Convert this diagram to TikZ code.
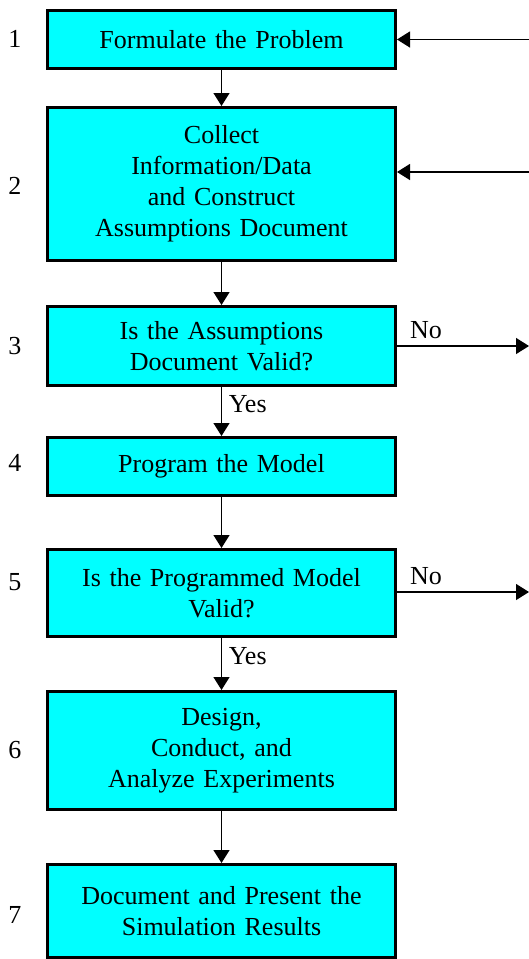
\documentclass[tikz,border=0pt]{standalone}
\usepackage{fontspec}
\setmainfont{Liberation Serif}
\usetikzlibrary{arrows.meta}
\definecolor{boxcyan}{RGB}{0,255,255}

\begin{document}
\begin{tikzpicture}[x=0.5pt, y=-0.5pt, >={Triangle[width=8pt,length=6.5pt]},
		font=\fontsize{13}{15.5}\selectfont,
		stepbox/.style={draw, line width=1.5pt, fill=boxcyan, minimum width=174pt,
			text width=170pt, inner sep=0pt, align=center},
		link/.style={->, line width=0.65pt}]
			% Fix the page size
			\useasboundingbox (0,0) rectangle (529,959);

			% Macro for drawing a step box.
			% Usage: \stepnode{name}{y}{height}{text}
			\newcommand{\stepnode}[4]{
				\node[stepbox, minimum height=#3] (#1) at (221.5,#2) {#4};
			}

			% The seven steps
			\stepnode{formulate}{39.5}{29pt}{Formulate the Problem};
			\stepnode{collect}{184}{76.5pt}{Collect\\Information/Data\\and Construct\\Assumptions Document};
			\stepnode{assumvalid}{346}{39.5pt}{Is the Assumptions\\Document Valid?};
			\stepnode{program}{466.5}{29pt}{Program the Model};
			\stepnode{progvalid}{593}{43.5pt}{Is the Programmed Model\\Valid?};
			\stepnode{experiment}{750.5}{59pt}{Design,\\Conduct, and\\Analyze Experiments};
			\stepnode{present}{911}{46.5pt}{Document and Present the\\Simulation Results};

			% Step numbers
			\foreach \i/\y in {1/39, 2/186, 3/346, 4/463, 5/582, 6/750, 7/915}
				\node (num\i) at (15,\y) {\i};

			% Flow down the steps
			\draw[link] (formulate) -- (collect);
			\draw[link] (collect) -- (assumvalid);
			\draw[link] (assumvalid) -- node[right, pos=0.35] {Yes} (program);
			\draw[link] (program) -- (progvalid);
			\draw[link] (progvalid) -- node[right, pos=0.35] {Yes} (experiment);
			\draw[link] (experiment) -- (present);

			% Arrows coming back in from the right
			\coordinate (backone) at (529,39.5);
			\coordinate (backtwo) at (529,172);
			\draw[link] (backone) -- (formulate.east);
			\draw[link] (backtwo) -- (collect.east |- backtwo);

			% Arrows leaving for the right
			\coordinate (noone) at (529,346);
			\coordinate (notwo) at (529,592);
			\draw[link] (assumvalid.east) -- node[above, pos=0.22] {No} (noone);
			\draw[link] (progvalid.east |- notwo) -- node[above, pos=0.22] {No} (notwo);
		\end{tikzpicture}
\end{document}
